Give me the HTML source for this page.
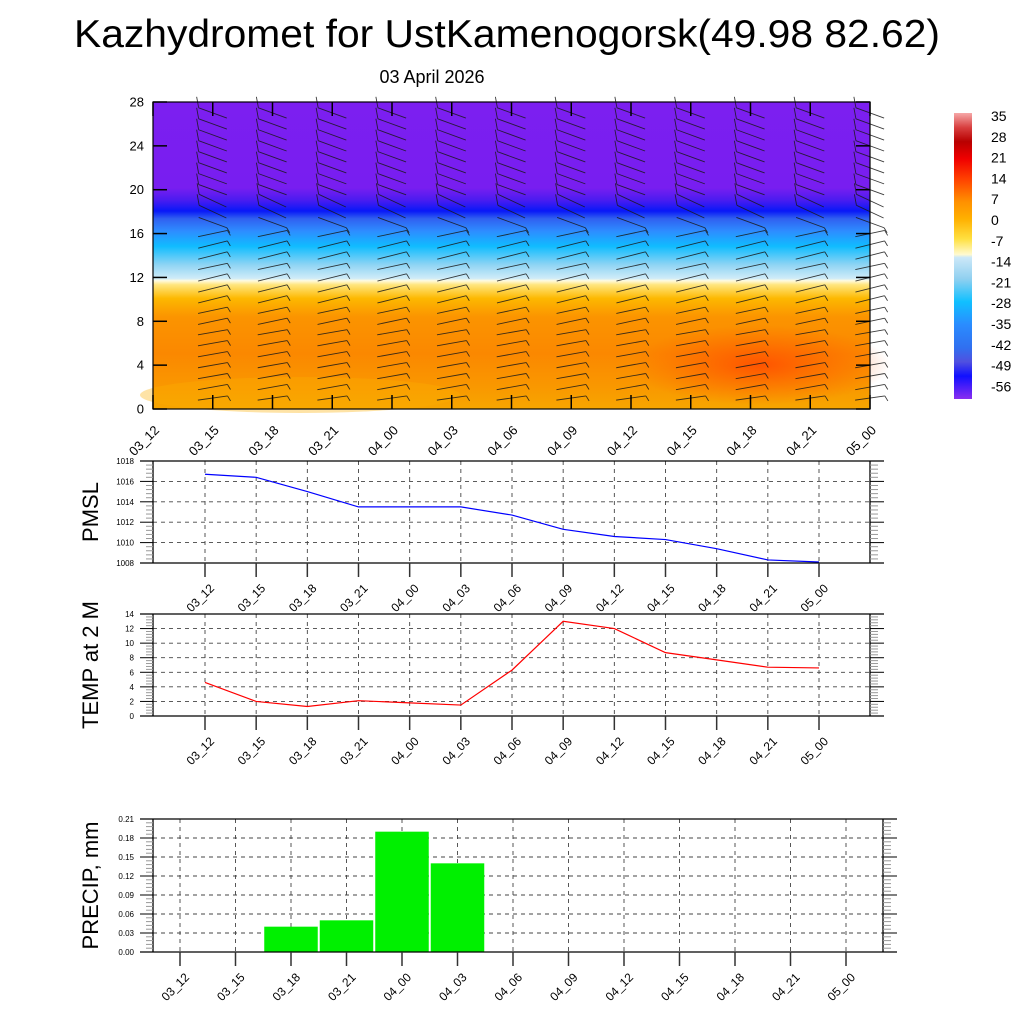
<!DOCTYPE html>
<html><head><meta charset="utf-8"><style>
html,body{margin:0;padding:0;background:#fff;}
svg{display:block;font-family:"Liberation Sans",sans-serif;}
</style></head><body>
<svg id="c" width="1024" height="1024" viewBox="0 0 1024 1024" xmlns="http://www.w3.org/2000/svg">
<defs>
<linearGradient id="vgrad" x1="0" y1="1" x2="0" y2="0">
<stop offset="0" stop-color="#f7a600"/>
<stop offset="0.07" stop-color="#f99800"/>
<stop offset="0.18" stop-color="#fb8800"/>
<stop offset="0.3" stop-color="#fb9400"/>
<stop offset="0.36" stop-color="#fdb800"/>
<stop offset="0.405" stop-color="#ffe680"/>
<stop offset="0.418" stop-color="#fffbe0"/>
<stop offset="0.425" stop-color="#d0ecf8"/>
<stop offset="0.47" stop-color="#8ed4f4"/>
<stop offset="0.53" stop-color="#10bcff"/>
<stop offset="0.58" stop-color="#2e8cff"/>
<stop offset="0.62" stop-color="#3060f0"/>
<stop offset="0.645" stop-color="#0818f8"/>
<stop offset="0.68" stop-color="#4a1cf0"/>
<stop offset="0.72" stop-color="#781ef0"/>
<stop offset="1" stop-color="#7c1ff0"/>
</linearGradient>
<radialGradient id="hot" cx="0.5" cy="0.5" r="0.5">
<stop offset="0" stop-color="#ff4a00" stop-opacity="0.85"/>
<stop offset="1" stop-color="#ff5a00" stop-opacity="0"/>
</radialGradient>
<linearGradient id="cbar" x1="0" y1="0" x2="0" y2="1">
<stop offset="0" stop-color="#f6a8a8"/>
<stop offset="0.05" stop-color="#d84040"/>
<stop offset="0.1" stop-color="#b80000"/>
<stop offset="0.16" stop-color="#f00000"/>
<stop offset="0.23" stop-color="#ff4000"/>
<stop offset="0.31" stop-color="#ff9000"/>
<stop offset="0.37" stop-color="#ffb000"/>
<stop offset="0.44" stop-color="#ffe040"/>
<stop offset="0.495" stop-color="#fffad0"/>
<stop offset="0.505" stop-color="#cce8f8"/>
<stop offset="0.58" stop-color="#90d0f0"/>
<stop offset="0.66" stop-color="#10c0ff"/>
<stop offset="0.74" stop-color="#2a8cff"/>
<stop offset="0.82" stop-color="#3070f0"/>
<stop offset="0.87" stop-color="#5050e0"/>
<stop offset="0.92" stop-color="#1010ff"/>
<stop offset="1" stop-color="#8a2ef0"/>
</linearGradient>
</defs>
<text x="507" y="47" text-anchor="middle" font-size="39" textLength="866" lengthAdjust="spacingAndGlyphs">Kazhydromet for UstKamenogorsk(49.98 82.62)</text>
<text x="432" y="83" text-anchor="middle" font-size="18">03 April 2026</text>
<g id="top"></g>
<g id="pmsl"></g>
<g id="temp"></g>
<g id="prec"></g>
<g id="cb"></g>
</svg>
<script>
const times=["03_12","03_15","03_18","03_21","04_00","04_03","04_06","04_09","04_12","04_15","04_18","04_21","05_00"];
const pmslVals=[1016.7,1016.4,1015.0,1013.5,1013.5,1013.5,1012.7,1011.3,1010.6,1010.3,1009.4,1008.3,1008.1];
const tempVals=[4.6,2.0,1.3,2.1,1.8,1.5,6.3,13.0,12.0,8.7,7.7,6.7,6.6];
const precVals=[0,0,0.04,0.05,0.19,0.14,0,0,0,0,0,0,0];
const pmslTicks=[1008,1010,1012,1014,1016,1018];
const tempTicks=[0,2,4,6,8,10,12,14];
const precTicks=["0.00","0.03","0.06","0.09","0.12","0.15","0.18","0.21"];
const heightTicks=[0,4,8,12,16,20,24,28];
const cbLabels=[35,28,21,14,7,0,-7,-14,-21,-28,-35,-42,-49,-56];
const windTilt=[-8,-8,-10,-10,-10,-10,-10,-10,-12,-12,-14,-14,-14,-12,-14,-14,-12,20,25,25,20,20,20,20,20,20,20,20,20];
const windFeathers=[1,1,1,1,1,1,1,1,1,1,1,1,1,1,1,1,1,1,1,2,2,2,2,2,2,2,2,2,2];

const NS="http://www.w3.org/2000/svg";
function el(tag,attrs,parent){const e=document.createElementNS(NS,tag);for(const k in attrs)e.setAttribute(k,attrs[k]);parent.appendChild(e);return e;}

(function(){
const g=document.getElementById('top');
const X0=153,X1=870,Y0=102,Y1=409;
const xs=i=>X0+(X1-X0)*i/(times.length-1);
const ys=v=>Y1-(Y1-Y0)*v/28;
let r=el('rect',{x:X0,y:Y0,width:X1-X0,height:Y1-Y0,fill:'url(#vgrad)'},g);


let h=el('ellipse',{cx:760,cy:365,rx:130,ry:40,fill:'url(#hot)'},g);


let h2=el('ellipse',{cx:300,cy:395,rx:160,ry:18,fill:'#fbb000',opacity:0.35},g);


const bg=el('g',{stroke:'#1a1a1a','stroke-width':'0.9',fill:'none',opacity:'0.85'},g);


for(let i=1;i<times.length;i++){
 for(let lv=0;lv<=28;lv++){
  const cx=xs(i),cy=ys(lv);
  if(cy<Y0+2||cy>Y1-2)continue;
  const a=windTilt[lv]*Math.PI/180;
  const L=30;
  const x1=cx-L/2*Math.cos(a),y1=cy-L/2*Math.sin(a);
  const x2=cx+L/2*Math.cos(a),y2=cy+L/2*Math.sin(a);
  el('line',{x1:x1,y1:y1,x2:x2,y2:y2},bg);
  if(lv>=18){el('line',{x1:x1,y1:y1,x2:x1-2,y2:y1-11},bg);}
  else{for(let f=0;f<windFeathers[lv];f++){el('line',{x1:x2-f*4,y1:y2-f*4*Math.sin(a),x2:x2-f*4+3,y2:y2+5},bg);}}
 }
}
el('rect',{x:X0,y:Y0,width:X1-X0,height:Y1-Y0,fill:'none',stroke:'#000','stroke-width':1.2},g);
heightTicks.forEach(v=>{
 const t=el('text',{x:X0-9,y:ys(v)+4.5,'text-anchor':'end','font-size':13},g);t.textContent=v;
 
 
 el('line',{x1:X0,x2:X0+14,y1:ys(v),y2:ys(v),stroke:'#000','stroke-width':1.5},g);
 el('line',{x1:X1,x2:X1-14,y1:ys(v),y2:ys(v),stroke:'#000','stroke-width':1.5},g);
});
times.forEach((tm,i)=>{
 const x=xs(i);
 el('line',{x1:x,x2:x,y1:Y1,y2:Y1-14,stroke:'#000','stroke-width':1.5},g);
 el('line',{x1:x,x2:x,y1:Y0,y2:Y0+14,stroke:'#000','stroke-width':1.5},g);
 const t=el('text',{x:x+7,y:Y1+22,'text-anchor':'end','font-size':13,transform:`rotate(-45 ${x+7} ${Y1+22})`},g);t.textContent=tm;
 
 
});
})();

function panel(id,o){
 const g=document.getElementById(id);
 const X0=153,X1=o.x1,Y0=o.y0,Y1=o.y1;
 const xs=i=>o.xa+(o.xb-o.xa)*i/(times.length-1);
 const ys=v=>Y1-(Y1-Y0)*(v-o.vmin)/(o.vmax-o.vmin);
 const grid=el('g',{stroke:'#444','stroke-width':0.9,'stroke-dasharray':'4 4'},g);
 
 
 o.ticks.forEach(v=>{const y=ys(+v);if(y>Y0+1&&y<Y1-1)el('line',{x1:X0,x2:X1,y1:y,y2:y},grid);});
 times.forEach((tm,i)=>el('line',{x1:xs(i),x2:xs(i),y1:Y0,y2:Y1},grid));
 if(o.bars){
  const w=(o.xb-o.xa)/(times.length-1)-2;
  o.vals.forEach((v,i)=>{if(v<=0)return;
   const b=el('rect',{x:xs(i)-w/2,y:ys(v),width:w,height:Y1-ys(v),fill:'#00f000'},g);
   
   });
 } else {
  const p=el('polyline',{points:o.vals.map((v,i)=>xs(i)+','+ys(v)).join(' '),fill:'none',stroke:o.color,'stroke-width':1.2},g);
  
  
 }
 el('line',{x1:140,x2:X1+14,y1:Y0,y2:Y0,stroke:'#000','stroke-width':1.3},g);
 el('line',{x1:140,x2:X1+14,y1:Y1,y2:Y1,stroke:'#000','stroke-width':1.3},g);
 el('line',{x1:X0,x2:X0,y1:Y0,y2:Y1,stroke:'#000','stroke-width':1.3},g);
 el('line',{x1:X1,x2:X1,y1:Y0,y2:Y1,stroke:'#000','stroke-width':1.3},g);
 const n=o.ticks.length-1, step=(Y1-Y0)/n;
 for(let k=0;k<=n*5;k++){const y=Y1-k*step/5;const big=k%5==0;
  el('line',{x1:big?140:146,x2:X0,y1:y,y2:y,stroke:big?'#000':'#999','stroke-width':1},g);
  el('line',{x1:X1,x2:big?X1+14:X1+8,y1:y,y2:y,stroke:big?'#000':'#999','stroke-width':1},g);}
 o.ticks.forEach(v=>{const t=el('text',{x:134,y:ys(+v)+3,'text-anchor':'end','font-size':8},g);t.textContent=v;
  
  });
 times.forEach((tm,i)=>{const x=xs(i);
  el('line',{x1:x,x2:x,y1:Y1,y2:Y1+14,stroke:'#333','stroke-width':1.5},g);
  const t=el('text',{x:x+10,y:Y1+26,'text-anchor':'end','font-size':12,transform:`rotate(-45 ${x+10} ${Y1+26})`},g);t.textContent=tm;
  
  });
 const cy=(Y0+Y1)/2;
 const t=el('text',{x:98,y:cy,'text-anchor':'middle','font-size':22,transform:`rotate(-90 98 ${cy})`},g);t.textContent=o.title;
 
 
}
panel('pmsl',{x1:870,y0:461,y1:563,xa:205,xb:819,vmin:1008,vmax:1018,ticks:pmslTicks,vals:pmslVals,color:'#0000ff',title:'PMSL'});
panel('temp',{x1:870,y0:614,y1:716,xa:205,xb:819,vmin:0,vmax:14,ticks:tempTicks,vals:tempVals,color:'#ff0000',title:'TEMP at 2 M'});
panel('prec',{x1:883,y0:819,y1:952,xa:180,xb:846,vmin:0,vmax:0.21,ticks:precTicks,vals:precVals,bars:true,title:'PRECIP, mm'});

(function(){
const g=document.getElementById('cb');
const r=el('rect',{x:954,y:113,width:18,height:286,fill:'url(#cbar)'},g);


cbLabels.forEach((v,i)=>{const t=el('text',{x:991,y:121+i*20.8,'font-size':14},g);t.textContent=v;
 
 });
})();
</script>
</body></html>
